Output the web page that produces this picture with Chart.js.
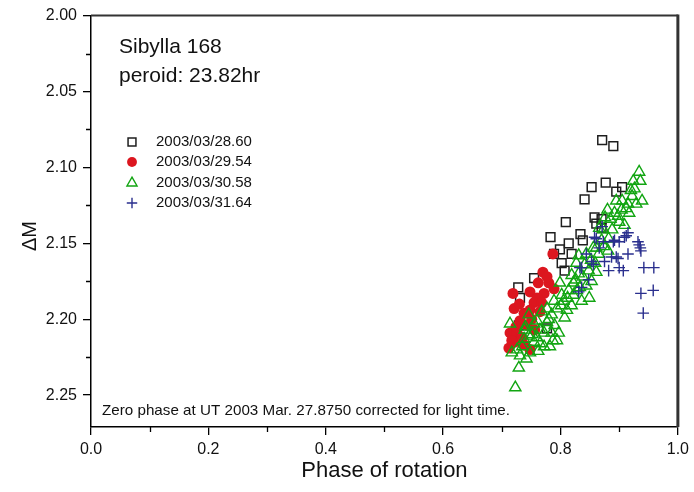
<!DOCTYPE html>
<html>
<head>
<meta charset="utf-8">
<script src="https://cdn.jsdelivr.net/npm/chart.js@4/dist/chart.umd.min.js"></script>
<style>
  html, body { margin: 0; padding: 0; background: #fff; }
  canvas { display: block; }
</style>
</head>
<body>
<canvas id="lc" width="694" height="492"></canvas>
<script>
// ─── Data (phase, ΔM) ─────────────────────────────────────
const seriesLabels = ['2003/03/28.60', '2003/03/29.54', '2003/03/30.58', '2003/03/31.64'];

const obs0328 = [
  [0.871, 2.082], [0.890, 2.086], [0.853, 2.113], [0.877, 2.110], [0.905, 2.113],
  [0.895, 2.116], [0.841, 2.121], [0.858, 2.133], [0.861, 2.137], [0.870, 2.134],
  [0.809, 2.136], [0.834, 2.144], [0.838, 2.148], [0.783, 2.146], [0.814, 2.150],
  [0.799, 2.154], [0.819, 2.157], [0.789, 2.157], [0.802, 2.163], [0.807, 2.168],
  [0.755, 2.173], [0.728, 2.179], [0.731, 2.186], [0.729, 2.204], [0.777, 2.206],
  [0.870, 2.140],
];

const obs0329 = [
  [0.787, 2.157], [0.770, 2.169], [0.780, 2.176], [0.762, 2.176], [0.789, 2.180],
  [0.748, 2.182], [0.772, 2.183], [0.719, 2.183], [0.760, 2.186], [0.755, 2.189],
  [0.768, 2.189], [0.721, 2.193], [0.738, 2.196], [0.748, 2.194], [0.765, 2.195],
  [0.731, 2.201], [0.743, 2.204], [0.714, 2.209], [0.726, 2.209], [0.722, 2.215],
  [0.712, 2.219], [0.748, 2.220], [0.734, 2.212], [0.717, 2.214], [0.739, 2.217],
  [0.756, 2.207], [0.724, 2.205], [0.751, 2.200], [0.730, 2.190], [0.777, 2.172],
];

const obs0330 = [
  [0.934, 2.103], [0.924, 2.109], [0.936, 2.109], [0.926, 2.114], [0.895, 2.122],
  [0.905, 2.122], [0.915, 2.124], [0.929, 2.124], [0.939, 2.122], [0.880, 2.128],
  [0.904, 2.128], [0.917, 2.130], [0.885, 2.134], [0.900, 2.136], [0.909, 2.138],
  [0.873, 2.141], [0.888, 2.141], [0.866, 2.140], [0.876, 2.133], [0.856, 2.153],
  [0.865, 2.157], [0.831, 2.158], [0.861, 2.153], [0.844, 2.157], [0.831, 2.170],
  [0.848, 2.168], [0.827, 2.163], [0.861, 2.169], [0.799, 2.176], [0.822, 2.176],
  [0.814, 2.181], [0.853, 2.175], [0.833, 2.179], [0.849, 2.186], [0.822, 2.184],
  [0.789, 2.188], [0.805, 2.188], [0.794, 2.193], [0.811, 2.194], [0.777, 2.193],
  [0.807, 2.199], [0.760, 2.201], [0.777, 2.202], [0.746, 2.197], [0.714, 2.203],
  [0.797, 2.209], [0.785, 2.209], [0.772, 2.209], [0.760, 2.212], [0.738, 2.213],
  [0.755, 2.215], [0.772, 2.218], [0.782, 2.218], [0.794, 2.214], [0.717, 2.222],
  [0.731, 2.224], [0.748, 2.222], [0.726, 2.220], [0.729, 2.232], [0.723, 2.245],
  [0.755, 2.203], [0.765, 2.207], [0.746, 2.211], [0.765, 2.216], [0.841, 2.164],
  [0.819, 2.171], [0.870, 2.148], [0.882, 2.147], [0.836, 2.188], [0.802, 2.184],
  [0.785, 2.197], [0.819, 2.191], [0.844, 2.178], [0.768, 2.195], [0.739, 2.207],
  [0.892, 2.130], [0.920, 2.115], [0.780, 2.200], [0.790, 2.204], [0.801, 2.191],
  [0.826, 2.174], [0.838, 2.172], [0.852, 2.161], [0.874, 2.152], [0.898, 2.132],
  [0.912, 2.127], [0.922, 2.119], [0.740, 2.205], [0.752, 2.210], [0.735, 2.218],
  [0.762, 2.221], [0.742, 2.226], [0.787, 2.214], [0.812, 2.186], [0.828, 2.181],
  [0.859, 2.163], [0.881, 2.155],
];

const obs0331 = [
  [0.844, 2.157], [0.853, 2.162], [0.858, 2.146], [0.873, 2.149], [0.892, 2.148],
  [0.900, 2.149], [0.909, 2.146], [0.915, 2.143], [0.932, 2.149], [0.915, 2.157],
  [0.875, 2.162], [0.887, 2.159], [0.898, 2.160], [0.882, 2.168], [0.900, 2.166],
  [0.907, 2.168], [0.942, 2.166], [0.959, 2.166], [0.833, 2.166], [0.866, 2.153],
  [0.934, 2.151], [0.871, 2.139], [0.861, 2.147], [0.912, 2.145], [0.936, 2.153],
  [0.890, 2.149], [0.856, 2.164], [0.836, 2.166], [0.937, 2.183], [0.958, 2.181],
  [0.941, 2.196], [0.836, 2.179], [0.831, 2.182], [0.895, 2.159], [0.937, 2.155],
  [0.848, 2.174],
];

const xMajor = [0.0, 0.2, 0.4, 0.6, 0.8, 1.0];
const xMinor = [0.1, 0.3, 0.5, 0.7, 0.9];
const yMajor = [2.00, 2.05, 2.10, 2.15, 2.20, 2.25];
const yMinor = [2.025, 2.075, 2.125, 2.175, 2.225];

const titleLines = ['Sibylla 168', 'peroid: 23.82hr'];
const note = 'Zero phase at UT 2003 Mar. 27.8750 corrected for light time.';

// ─── Styles ───────────────────────────────────────────────
const FONT = "'Liberation Sans', Arial, Helvetica, sans-serif";
const STYLES = [
  { pointStyle: 'rect', radius: 6.2, color: '#1e1e1e', fill: false, width: 1.5 },
  { pointStyle: 'circle', radius: 5.5, color: '#dc161f', fill: true, width: 0 },
  { pointStyle: 'triangle', radius: 6.5, color: '#12a512', fill: false, width: 1.4 },
  { pointStyle: 'cross', radius: 5.8, color: '#2a2f8e', fill: false, width: 1.4 },
];

const toPts = arr => arr.map(([x, y]) => ({ x, y }));
const allObs = [obs0328, obs0329, obs0330, obs0331];

const datasets = allObs.map((obs, i) => {
  const s = STYLES[i];
  return {
    label: seriesLabels[i],
    data: toPts(obs),
    pointStyle: s.pointStyle,
    pointRadius: s.radius,
    pointBorderColor: s.color,
    pointBackgroundColor: s.fill ? s.color : 'rgba(0,0,0,0)',
    pointBorderWidth: s.width,
    showLine: false,
    order: 4 - i,
  };
});

// Draws a single legend marker like Chart.js would
function drawMarker(ctx, s, x, y) {
  const r = s.radius * 0.9;
  ctx.save();
  ctx.strokeStyle = s.color;
  ctx.fillStyle = s.color;
  ctx.lineWidth = s.width || 1;
  ctx.beginPath();
  if (s.pointStyle === 'rect') {
    const h = Math.SQRT1_2 * r;
    ctx.rect(x - h, y - h, 2 * h, 2 * h);
    ctx.stroke();
  } else if (s.pointStyle === 'circle') {
    ctx.arc(x, y, r, 0, Math.PI * 2);
    ctx.fill();
  } else if (s.pointStyle === 'triangle') {
    ctx.moveTo(x, y - r);
    ctx.lineTo(x + 0.866 * r, y + 0.5 * r);
    ctx.lineTo(x - 0.866 * r, y + 0.5 * r);
    ctx.closePath();
    ctx.stroke();
  } else {
    ctx.moveTo(x - r, y); ctx.lineTo(x + r, y);
    ctx.moveTo(x, y - r); ctx.lineTo(x, y + r);
    ctx.stroke();
  }
  ctx.restore();
}

const decor = {
  id: 'decor',
  afterDraw(chart) {
    const { ctx, chartArea: a, scales: { x, y } } = chart;
    ctx.save();

    // top / right frame
    ctx.strokeStyle = '#333';
    ctx.lineWidth = 2;
    ctx.beginPath();
    ctx.moveTo(a.left, a.top); ctx.lineTo(a.right, a.top);
    ctx.stroke();
    ctx.lineWidth = 3;
    ctx.beginPath();
    ctx.moveTo(a.right, a.top - 1); ctx.lineTo(a.right, a.bottom);
    ctx.stroke();

    // minor ticks
    ctx.strokeStyle = '#000';
    ctx.lineWidth = 1.3;
    ctx.beginPath();
    xMinor.forEach(v => {
      const px = Math.round(x.getPixelForValue(v)) + 0.5;
      ctx.moveTo(px, a.bottom); ctx.lineTo(px, a.bottom + 5);
    });
    yMinor.forEach(v => {
      const py = Math.round(y.getPixelForValue(v)) + 0.5;
      ctx.moveTo(a.left - 5, py); ctx.lineTo(a.left, py);
    });
    ctx.stroke();

    // title block
    ctx.fillStyle = '#111';
    ctx.textBaseline = 'middle';
    ctx.textAlign = 'left';
    ctx.font = `21px ${FONT}`;
    ctx.fillText(titleLines[0], 119, 47);
    ctx.fillText(titleLines[1], 119, 76);

    // legend
    ctx.font = `15px ${FONT}`;
    const rows = [142, 162, 183, 203];
    seriesLabels.forEach((lab, i) => {
      drawMarker(ctx, STYLES[i], 132, rows[i]);
      ctx.fillStyle = '#111';
      ctx.fillText(lab, 156, rows[i]);
    });

    // note, condensed to match the original width
    ctx.font = `15px ${FONT}`;
    const w = ctx.measureText(note).width;
    ctx.save();
    ctx.translate(102, 411);
    ctx.scale(408 / w, 1);
    ctx.fillText(note, 0, 0);
    ctx.restore();

    // y axis title
    ctx.save();
    ctx.translate(30, 236);
    ctx.rotate(-Math.PI / 2);
    ctx.textAlign = 'center';
    ctx.font = `20px ${FONT}`;
    ctx.fillText('\u0394M', 0, 0);
    ctx.restore();

    ctx.restore();
  },
};

new Chart(document.getElementById('lc'), {
  type: 'scatter',
  data: { datasets },
  options: {
    responsive: false,
    animation: false,
    devicePixelRatio: 1,
    layout: { padding: { left: 0, top: 15, right: 12, bottom: 0 } },
    plugins: { legend: { display: false }, tooltip: { enabled: false } },
    scales: {
      x: {
        type: 'linear',
        min: 0,
        max: 1,
        afterBuildTicks: s => { s.ticks = xMajor.map(value => ({ value })); },
        afterFit: s => { s.height = 65; },
        ticks: {
          callback: v => v.toFixed(1),
          font: { size: 16, family: FONT },
          color: '#111',
          padding: 5,
          maxRotation: 0,
        },
        grid: { drawOnChartArea: false, drawTicks: true, tickLength: 8, color: '#000', lineWidth: 1.3 },
        border: { display: true, color: '#000', width: 1.5 },
        title: {
          display: true,
          text: 'Phase of rotation',
          font: { size: 22, family: FONT },
          color: '#111',
          padding: { top: 0, bottom: 8 },
        },
      },
      y: {
        type: 'linear',
        reverse: true,
        min: 2.0,
        max: 2.271,
        afterBuildTicks: s => { s.ticks = yMajor.map(value => ({ value })); },
        afterFit: s => { s.width = 91; },
        ticks: {
          callback: v => v.toFixed(2),
          font: { size: 16, family: FONT },
          color: '#111',
          padding: 6,
        },
        grid: { drawOnChartArea: false, drawTicks: true, tickLength: 8, color: '#000', lineWidth: 1.3 },
        border: { display: true, color: '#000', width: 1.5 },
      },
    },
  },
  plugins: [decor],
});
</script>
</body>
</html>
